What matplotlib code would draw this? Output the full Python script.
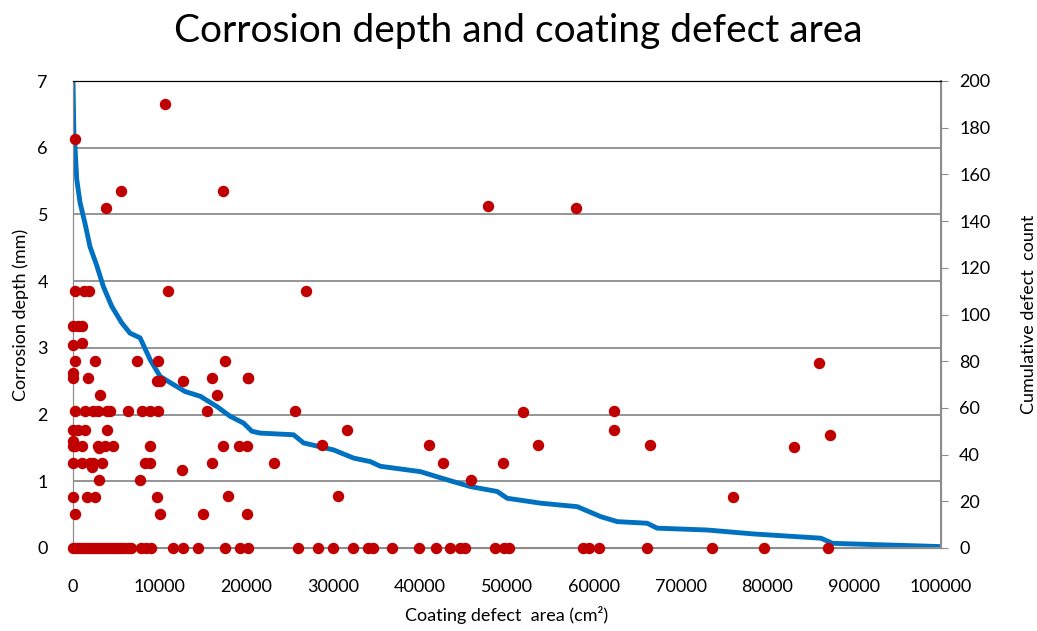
import matplotlib.pyplot as plt

# Corrosion depth (mm) against coating defect area (cm2), one dot per defect
area = [10600, 200, 3800, 5500, 17300, 47800, 57900,
        200, 1300, 1800, 11000, 26800,
        0, 600, 1000, 0, 1000,
        230, 2540, 7350, 9840, 17500,
        0, 0, 1770, 9650, 10000, 12700, 16000, 20200, 20200,
        3100, 16600,
        230, 1380, 2340, 2920, 3880, 4270, 6380, 7920, 8880, 9840, 15400, 25600, 51900, 62300,
        0, 600, 1380, 3880, 31600, 62300,
        0, 0, 230, 1000, 2920, 3000, 3690, 4650, 8880, 17330, 19070, 20030,
        28700, 41000, 53600, 66500, 83100, 87200,
        0, 1000, 1960, 2340, 3310, 8300, 8880, 16000, 2150, 23100, 42600, 49500,
        12500, 3000, 7730, 45900,
        0, 1580, 2540, 9650, 17900, 30500, 76000,
        230, 10000, 15000, 20000,
        85900]
depth = [6.65, 6.13, 5.10, 5.35, 5.35, 5.13, 5.10,
         3.85, 3.85, 3.85, 3.85, 3.85,
         3.33, 3.33, 3.33, 3.05, 3.08,
         2.80, 2.80, 2.80, 2.80, 2.80,
         2.55, 2.62, 2.55, 2.50, 2.50, 2.50, 2.55, 2.55, 2.55,
         2.30, 2.30,
         2.05, 2.05, 2.05, 2.05, 2.05, 2.05, 2.05, 2.05, 2.05, 2.05, 2.05, 2.05, 2.04, 2.05,
         1.77, 1.77, 1.77, 1.77, 1.77, 1.77,
         1.53, 1.60, 1.53, 1.53, 1.53, 1.50, 1.53, 1.53, 1.53, 1.53, 1.53, 1.53,
         1.55, 1.55, 1.55, 1.54, 1.52, 1.70,
         1.27, 1.27, 1.27, 1.27, 1.27, 1.27, 1.27, 1.27, 1.22, 1.27, 1.27, 1.27,
         1.17, 1.02, 1.02, 1.02,
         0.76, 0.76, 0.76, 0.76, 0.78, 0.78, 0.76,
         0.51, 0.51, 0.51, 0.51,
         2.78]

# Defects with no measurable corrosion
area_zero = [0, 346, 692, 1038, 1384, 1730, 2076, 2422, 2768, 3114, 3460, 3806,
             4152, 4498, 4844, 5190, 5536, 5882, 6343, 6690, 7843, 8420, 8997,
             11534, 12687, 14418, 17532, 19262, 20185, 25952, 28258, 29988,
             32295, 34025, 34602, 36794, 39908, 41869, 43484, 44637, 45214,
             48674, 49597, 50174, 58709, 59401, 60555, 66091, 73588, 79585, 86967]

# Cumulative count of defects larger than a given area
curve_area = [0, 115, 230, 427, 807, 1384, 1961, 2734, 3495, 4464, 5617, 6574,
              7728, 8881, 10034, 11568, 12918, 14648, 16575, 18107, 19643, 20611,
              21570, 25410, 26563, 30023, 32330, 34256, 35409, 40023, 43103,
              45790, 48870, 50023, 53872, 58097, 60821, 62711, 66147, 67300,
              73090, 78468, 86159, 87510, 100000]
curve_count = [200, 175, 172, 158, 148, 139, 129, 121, 112, 103.5, 96.4, 92,
               90, 80.7, 73.5, 70, 67, 65, 60.6, 56.4, 53.5, 50,
               49.2, 48.5, 45, 42, 38.5, 37, 35, 32.7, 29.2,
               26.3, 24.2, 21.3, 19.2, 17.7, 13.4, 11.3, 10.6, 8.5,
               7.7, 6, 4.2, 2.0, 0.6]

plt.rcParams['font.family'] = ['Lato', 'DejaVu Sans']

fig = plt.figure(figsize=(10.37, 6.31), dpi=100)
ax = fig.add_axes([73 / 1037, 1 - 548 / 631, 868 / 1037, 467 / 631])
ax2 = ax.twinx()

ax.scatter(area, depth, s=52, color='#C00000', zorder=3, clip_on=False)
ax.scatter(area_zero, [0] * len(area_zero), s=52, color='#C00000', zorder=3, clip_on=False)
ax2.plot(curve_area, curve_count, color='#0070C0', lw=3.5, zorder=2)

ax.set_zorder(2)
ax.patch.set_visible(False)
ax2.set_zorder(1)

ax.set_xlim(0, 100000)
ax.set_ylim(0, 7)
ax2.set_ylim(0, 200)
ax.set_xticks(range(0, 100001, 10000))
ax.set_yticks(range(0, 8))
ax2.set_yticks(range(0, 201, 20))

ax2.yaxis.grid(False)
for y in range(1, 7):
    ax2.axhline(y / 7 * 200, color='#8c8c8c', lw=1.3, zorder=0)

for side in ['left', 'bottom', 'right']:
    ax.spines[side].set_color('#8c8c8c')
    ax2.spines[side].set_color('#8c8c8c')
ax.spines['top'].set_color('black')
ax2.spines['top'].set_color('black')
ax2.spines['right'].set_linewidth(1.5)
ax.spines['bottom'].set_linewidth(1.5)

ax.tick_params(axis='x', length=0, labelsize=13, pad=22)
ax.tick_params(axis='y', length=0, labelsize=13, pad=18)
ax2.tick_params(axis='y', length=5, color='#8c8c8c', labelsize=13, pad=8)

ax.set_xlabel('Coating defect  area (cm²)', fontsize=13, labelpad=8)
ax.set_ylabel('Corrosion depth (mm)', fontsize=13, labelpad=6)
ax2.set_ylabel('Cumulative defect  count', fontsize=13, labelpad=22)

fig.suptitle('Corrosion depth and coating defect area', fontsize=28, y=0.98)

fig.savefig('out.png', dpi=100)
